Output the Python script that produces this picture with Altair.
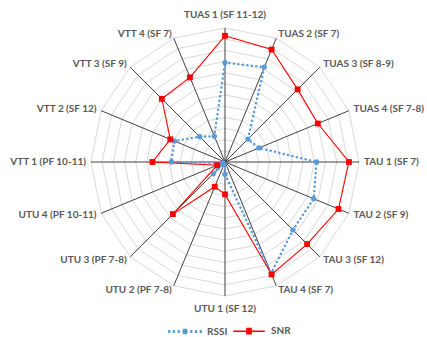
import altair as alt
import pandas as pd

# Radar chart: RSSI and SNR per gateway / spreading factor
categories = [
    "TUAS 1 (SF 11-12)", "TUAS 2 (SF 7)", "TUAS 3 (SF 8-9)", "TUAS 4 (SF 7-8)",
    "TAU 1 (SF 7)", "TAU 2 (SF 9)", "TAU 3 (SF 12)", "TAU 4 (SF 7)",
    "UTU 1 (SF 12)", "UTU 2 (PF 7-8)", "UTU 3 (PF 7-8)", "UTU 4 (PF 10-11)",
    "VTT 1 (PF 10-11)", "VTT 2 (SF 12)", "VTT 3 (SF 9)", "VTT 4 (SF 7)",
]
rssi = [8.9, 9.2, 2.9, 3.3, 8.2, 8.6, 8.6, 10.8, 1.1, 0.2, 1.5, 0.2, 4.8, 4.9, 3.2, 2.5]
snr = [11.3, 10.9, 9.2, 9.0, 11.1, 11.0, 10.4, 10.9, 2.9, 2.4, 6.6, 0.75, 6.5, 5.3, 8.0, 8.2]
series_names = ["RSSI", "SNR"]
ring_levels = list(range(1, 13))
axis_max = 12

n = len(categories)
BLUE = "#5b9bd5"
RED = "#ff0000"
TEXT = "#595959"
FONT = "Lato"
FONT_SIZE = 10

points = pd.DataFrame(
    [{"series": "RSSI", "idx": i, "cat": c, "value": v} for i, (c, v) in enumerate(zip(categories, rssi))]
    + [{"series": "SNR", "idx": i, "cat": c, "value": v} for i, (c, v) in enumerate(zip(categories, snr))]
)
rings = pd.DataFrame([{"level": lv, "idx": i} for lv in ring_levels for i in range(n)])
spokes = pd.DataFrame({"idx": list(range(n)), "cat": categories})

xs = alt.Scale(domain=[-axis_max, axis_max], nice=False, zero=False)
ys = alt.Scale(domain=[-axis_max, axis_max], nice=False, zero=False)
ANG = f"datum.idx * 2 * PI / {n}"


def polar(chart, r_expr):
    return chart.transform_calculate(ang=ANG).transform_calculate(
        px=f"({r_expr}) * sin(datum.ang)", py=f"({r_expr}) * cos(datum.ang)"
    )


X = alt.X("px:Q", scale=xs, axis=None)
Y = alt.Y("py:Q", scale=ys, axis=None)

# concentric 16-sided grid rings
grid = polar(alt.Chart(rings), "datum.level").mark_line(
    interpolate="linear-closed", color="#d9d9d9", strokeWidth=1
).encode(x=X, y=Y, detail="level:O", order="idx:Q")

# spokes from the centre to the outer ring
spoke = alt.Chart(spokes).transform_calculate(ang=ANG).transform_calculate(
    ox="0", oy="0",
    px=f"{axis_max} * sin(datum.ang)", py=f"{axis_max} * cos(datum.ang)",
).mark_rule(color="#404040", strokeWidth=1).encode(
    x=alt.X("ox:Q", scale=xs, axis=None), y=alt.Y("oy:Q", scale=ys, axis=None),
    x2="px:Q", y2="py:Q",
)

pts = polar(alt.Chart(points), "datum.value")

rssi_line = pts.transform_filter("datum.series == 'RSSI'").mark_line(
    interpolate="linear-closed", color=BLUE, strokeWidth=2.5,
    strokeDash=[0.1, 4.4], strokeCap="round",
).encode(x=X, y=Y, order="idx:Q")
rssi_pts = pts.transform_filter("datum.series == 'RSSI'").mark_point(
    filled=True, shape="circle", size=28, color=BLUE, opacity=1
).encode(x=X, y=Y)

snr_line = pts.transform_filter("datum.series == 'SNR'").mark_line(
    interpolate="linear-closed", color=RED, strokeWidth=1.1
).encode(x=X, y=Y, order="idx:Q")
snr_pts = pts.transform_filter("datum.series == 'SNR'").mark_point(
    filled=True, shape="square", size=34, color=RED, opacity=1
).encode(x=X, y=Y)


# legend symbols: line with a marker, drawn as stroked paths
def hline(x0, x1, y):
    return f"M{x0:.3f},{y:.3f}H{x1:.3f}"


snr_sym = hline(-1, 1, 0) + "".join(hline(-0.18, 0.18, y) for y in [-0.17, -0.1, -0.03, 0.03, 0.1, 0.17])
rssi_sym = "".join(hline(x - 0.07, x + 0.07, y) for x in [-1, -0.7, -0.4, 0.4, 0.7, 1.0] for y in [-0.04, 0.04])
for y in [-0.12, -0.06, 0.0, 0.06, 0.12]:
    hw = (0.17 ** 2 - y ** 2) ** 0.5
    rssi_sym += hline(-hw, hw, y)

legend_layer = alt.Chart(points).transform_filter("false").mark_point(opacity=1).encode(
    x=alt.X("idx:Q", scale=xs, axis=None),
    y=alt.Y("value:Q", scale=ys, axis=None),
    color=alt.Color("series:N", scale=alt.Scale(domain=series_names, range=[BLUE, RED])),
    shape=alt.Shape(
        "series:N",
        scale=alt.Scale(domain=series_names, range=[rssi_sym, snr_sym]),
        legend=alt.Legend(
            title=None, orient="none", direction="horizontal",
            legendX=77, legendY=286,
            symbolSize=1000, symbolStrokeWidth=1.5, labelOffset=5,
            columnPadding=2, labelFont=FONT, labelFontSize=FONT_SIZE,
            labelFontWeight="bold", labelColor=TEXT, padding=0,
        ),
    ),
)

# category labels outside the outer ring
lbl = alt.Chart(spokes).transform_calculate(ang=ANG).transform_calculate(
    lr="abs(sin(datum.ang)) < 0.1 ? 13.2 : 12.45"
).transform_calculate(
    px="datum.lr * sin(datum.ang)", py="datum.lr * cos(datum.ang)", s="sin(datum.ang)"
)
text_style = dict(font=FONT, fontSize=FONT_SIZE, fontWeight="bold", color=TEXT, baseline="middle")
lbl_c = lbl.transform_filter("abs(datum.s) < 0.1").mark_text(align="center", **text_style).encode(x=X, y=Y, text="cat:N")
lbl_l = lbl.transform_filter("datum.s >= 0.1").mark_text(align="left", **text_style).encode(x=X, y=Y, text="cat:N")
lbl_r = lbl.transform_filter("datum.s <= -0.1").mark_text(align="right", **text_style).encode(x=X, y=Y, text="cat:N")

chart = alt.layer(
    grid, spoke, rssi_line, snr_line, rssi_pts, snr_pts, legend_layer, lbl_c, lbl_l, lbl_r
).properties(
    width=268, height=268,
    autosize=alt.AutoSizeParams(type="none"),
    padding={"left": 91, "top": 28, "right": 68, "bottom": 41},
    background="white",
).configure_view(stroke=None)

chart.save("out.html", embed_options={"renderer": "svg", "actions": False})
